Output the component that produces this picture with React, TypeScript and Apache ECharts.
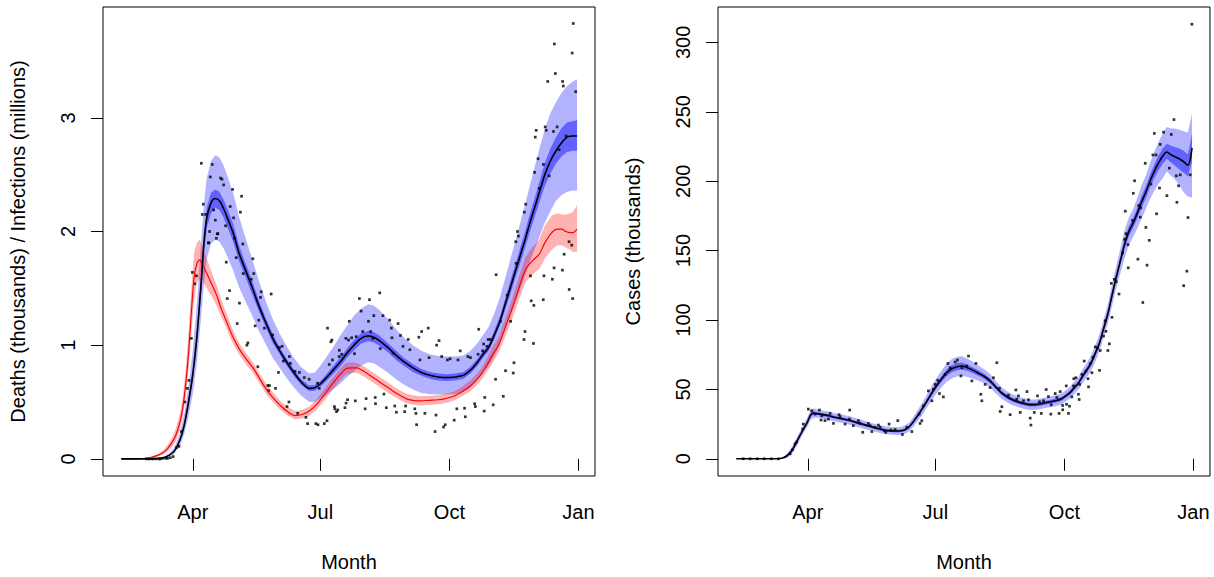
import React, { useEffect, useRef } from "react";
import * as echarts from "echarts";

// ---- axis ticks ----
const monthTicks = [91, 182, 274, 366];
const monthLabels = ["Apr", "Jul", "Oct", "Jan"];
const deathTicks = [0, 1, 2, 3];
const caseTicks = [0, 50, 100, 150, 200, 250, 300];

// ---- left panel: deaths (thousands) fit, blue ----
const deathDays = [40, 50, 60, 66, 70, 74, 78, 82, 85, 88, 91, 94, 97, 99, 101, 104, 107, 110, 113, 116, 120, 124, 128, 133, 138, 143, 148, 153, 158, 163, 168, 174, 178, 182, 186, 191, 196, 201, 206, 211, 216, 220, 224, 230, 236, 242, 248, 254, 260, 266, 272, 278, 284, 289, 294, 298, 302, 306, 310, 314, 318, 322, 325, 328, 331, 334, 338, 342, 346, 350, 354, 358, 362, 365];
const deathMean = [0, 0, 0, 0.003, 0.01, 0.03, 0.07, 0.17, 0.3, 0.5, 0.74, 1.08, 1.55, 1.9, 2.12, 2.25, 2.29, 2.27, 2.2, 2.11, 1.98, 1.81, 1.68, 1.52, 1.35, 1.2, 1.06, 0.95, 0.85, 0.76, 0.68, 0.62, 0.625, 0.66, 0.71, 0.78, 0.85, 0.93, 1.0, 1.06, 1.08, 1.07, 1.04, 0.98, 0.91, 0.85, 0.8, 0.76, 0.735, 0.72, 0.715, 0.72, 0.735, 0.78, 0.85, 0.92, 0.98, 1.09, 1.21, 1.37, 1.53, 1.69, 1.81, 1.93, 2.06, 2.18, 2.34, 2.5, 2.62, 2.71, 2.78, 2.83, 2.84, 2.84];
const deathLo95 = [0, 0, 0, 0, 0.005, 0.018, 0.05, 0.12, 0.22, 0.38, 0.57, 0.85, 1.25, 1.55, 1.76, 1.89, 1.93, 1.91, 1.85, 1.77, 1.65, 1.51, 1.4, 1.27, 1.13, 1.01, 0.89, 0.8, 0.71, 0.63, 0.56, 0.5, 0.5, 0.53, 0.56, 0.61, 0.66, 0.72, 0.77, 0.82, 0.85, 0.84, 0.81, 0.76, 0.7, 0.65, 0.61, 0.58, 0.57, 0.565, 0.565, 0.57, 0.59, 0.63, 0.7, 0.76, 0.82, 0.9, 1.01, 1.15, 1.29, 1.41, 1.51, 1.61, 1.72, 1.82, 1.95, 2.08, 2.18, 2.27, 2.32, 2.35, 2.36, 2.36];
const deathHi95 = [0, 0, 0, 0.006, 0.017, 0.045, 0.1, 0.23, 0.4, 0.64, 0.95, 1.38, 1.9, 2.25, 2.47, 2.62, 2.67, 2.65, 2.58, 2.48, 2.33, 2.13, 1.97, 1.77, 1.57, 1.39, 1.23, 1.1, 0.99, 0.89, 0.81, 0.75, 0.76, 0.82, 0.89, 0.98, 1.08, 1.17, 1.26, 1.32, 1.36, 1.35, 1.31, 1.23, 1.14, 1.06, 1.0, 0.95, 0.92, 0.905, 0.9, 0.9, 0.91, 0.95, 1.02, 1.09, 1.16, 1.28, 1.42, 1.6, 1.78, 1.96, 2.1, 2.24, 2.39, 2.53, 2.72, 2.9, 3.04, 3.14, 3.22, 3.28, 3.32, 3.34];
const deathLo50 = [0, 0, 0, 0.002, 0.008, 0.026, 0.063, 0.155, 0.28, 0.46, 0.69, 1.01, 1.46, 1.8, 2.03, 2.16, 2.21, 2.19, 2.12, 2.03, 1.9, 1.74, 1.62, 1.46, 1.3, 1.16, 1.02, 0.92, 0.82, 0.73, 0.655, 0.595, 0.6, 0.635, 0.68, 0.745, 0.81, 0.89, 0.955, 1.015, 1.035, 1.025, 0.995, 0.94, 0.87, 0.815, 0.765, 0.73, 0.705, 0.69, 0.685, 0.69, 0.705, 0.75, 0.82, 0.89, 0.95, 1.05, 1.17, 1.32, 1.47, 1.63, 1.74, 1.86, 1.98, 2.1, 2.25, 2.4, 2.51, 2.6, 2.66, 2.7, 2.71, 2.71];
const deathHi50 = [0, 0, 0, 0.004, 0.012, 0.034, 0.077, 0.185, 0.32, 0.54, 0.8, 1.16, 1.64, 2.0, 2.21, 2.34, 2.37, 2.35, 2.28, 2.19, 2.06, 1.88, 1.74, 1.58, 1.4, 1.24, 1.1, 0.98, 0.88, 0.79, 0.705, 0.645, 0.65, 0.685, 0.74, 0.815, 0.89, 0.97, 1.045, 1.105, 1.125, 1.115, 1.085, 1.02, 0.95, 0.885, 0.835, 0.79, 0.765, 0.75, 0.745, 0.75, 0.765, 0.81, 0.88, 0.95, 1.01, 1.13, 1.25, 1.42, 1.59, 1.75, 1.88, 2.0, 2.14, 2.26, 2.43, 2.6, 2.73, 2.83, 2.91, 2.96, 2.97, 2.98];

// ---- left panel: infections (millions), red ----
const infDays = [40, 50, 56, 61, 66, 70, 73, 76, 79, 82, 84, 86, 88, 90, 92, 94, 96, 98, 101, 104, 108, 111, 115, 119, 124, 129, 134, 138, 143, 148, 153, 158, 164, 169, 174, 179, 184, 190, 196, 200, 204, 208, 213, 219, 225, 231, 237, 243, 248, 253, 260, 266, 271, 277, 283, 289, 293, 297, 301, 305, 309, 314, 319, 323, 328, 333, 338, 342, 347, 351, 354, 357, 360, 362, 365];
const infMean = [0, 0, 0.003, 0.012, 0.03, 0.055, 0.09, 0.14, 0.21, 0.33, 0.46, 0.66, 0.93, 1.29, 1.6, 1.72, 1.75, 1.71, 1.63, 1.55, 1.44, 1.33, 1.21, 1.09, 0.97, 0.88, 0.8, 0.72, 0.62, 0.54, 0.475, 0.42, 0.38, 0.39, 0.42, 0.475, 0.55, 0.65, 0.74, 0.79, 0.8, 0.8, 0.77, 0.72, 0.67, 0.62, 0.57, 0.53, 0.515, 0.51, 0.515, 0.52, 0.53, 0.55, 0.59, 0.64, 0.69, 0.75, 0.83, 0.92, 1.0, 1.16, 1.33, 1.48, 1.66, 1.74, 1.8, 1.9, 1.99, 2.02, 2.02, 2.0, 1.99, 1.99, 2.02];
const infLo = [0, 0, 0.001, 0.007, 0.02, 0.04, 0.065, 0.1, 0.16, 0.26, 0.37, 0.54, 0.78, 1.1, 1.4, 1.55, 1.58, 1.56, 1.5, 1.44, 1.35, 1.26, 1.15, 1.03, 0.92, 0.83, 0.755, 0.675, 0.575, 0.5, 0.435, 0.385, 0.345, 0.355, 0.38, 0.43, 0.5, 0.6, 0.69, 0.74, 0.755, 0.755, 0.725, 0.675, 0.625, 0.575, 0.53, 0.49, 0.475, 0.47, 0.475, 0.48, 0.49, 0.51, 0.55, 0.595, 0.64, 0.7, 0.77, 0.85, 0.93, 1.08, 1.24, 1.38, 1.55, 1.62, 1.67, 1.76, 1.84, 1.88, 1.88, 1.86, 1.84, 1.82, 1.82];
const infHi = [0, 0, 0.005, 0.018, 0.042, 0.075, 0.12, 0.18, 0.27, 0.41, 0.56, 0.8, 1.1, 1.5, 1.82, 1.9, 1.93, 1.87, 1.76, 1.66, 1.53, 1.41, 1.28, 1.15, 1.02, 0.93, 0.845, 0.765, 0.665, 0.585, 0.515, 0.46, 0.42, 0.43, 0.46, 0.52, 0.6, 0.7, 0.79, 0.84, 0.85, 0.845, 0.815, 0.765, 0.715, 0.665, 0.615, 0.575, 0.56, 0.55, 0.555, 0.56, 0.57, 0.59, 0.635, 0.69, 0.74, 0.8, 0.89, 0.99, 1.07, 1.24, 1.42, 1.58, 1.77, 1.86, 1.93, 2.05, 2.14, 2.16, 2.15, 2.15, 2.16, 2.17, 2.23];

// ---- left panel: observed daily deaths (thousands) ----
const deathPoints: [number, number][] = [
  [58, 0], [60, 0], [62, 0], [63, 0], [65, 0], [67, 0], [68, 0], [70, 0.005], [72, 0.005], [73, 0.005], [75, 0.01],
  [77, 0.02], [79.4, 0.1], [81.2, 0.11], [82.9, 0.24], [85.3, 0.5], [87.2, 0.62], [88.3, 0.69], [90, 1.06], [90.7, 1.64], [92.4, 1.54], [93.6, 1.61],
  [97.1, 2.6], [97.8, 2.15], [98.5, 2.24], [100.2, 2.15], [102.1, 1.9], [102.5, 1.9], [103, 2.0], [103.5, 2.48], [104.9, 2.59], [105.9, 2.19],
  [107.1, 2.1], [107.8, 1.94], [108.5, 1.98], [108.9, 1.98], [110.8, 2.47], [111.8, 2.46], [113, 2.41], [114.4, 2.05], [114.9, 1.73], [115.6, 1.41],
  [117.2, 1.48], [117.7, 2.22], [119.4, 2.37], [120.1, 2.12], [120.8, 1.94], [122, 1.77], [122.7, 1.19], [124.3, 1.37], [125, 2.17], [125.8, 2.31],
  [126.7, 1.89], [127, 1.63], [129.6, 1.0], [130.3, 1.02], [132.7, 1.58], [133.8, 1.76], [134.5, 1.63], [135.5, 1.17], [137.4, 0.81], [138.1, 1.22],
  [139.3, 1.42], [139.8, 1.47], [142.1, 1.15], [144.5, 0.645], [145, 0.6], [145.7, 0.645], [146.9, 1.45], [148, 1.09], [150, 0.62], [152.1, 0.76],
  [152.8, 0.98], [154.7, 0.99], [155.6, 0.86], [158.2, 0.46], [159.9, 0.9], [159.6, 0.5], [160.6, 0.84], [163.9, 0.77], [165.8, 0.4], [167, 0.76],
  [170.5, 0.715], [171.7, 0.365], [172.9, 0.31], [174, 0.7], [178.8, 0.31], [180, 0.665], [180.3, 0.3], [181.2, 0.62], [184.8, 0.31], [186.7, 0.335],
  [187.1, 1.15], [188.3, 0.83], [189.5, 1.03], [190.2, 1.045], [190.6, 0.87], [192, 0.46], [192.3, 0.44], [193.5, 0.415], [194.4, 0.43], [195.4, 0.9],
  [195.5, 0.955], [197.2, 0.92], [199.5, 0.45], [200.2, 1.06], [200.3, 0.49], [201.4, 0.52], [202.1, 1.045], [202.6, 1.21], [204.3, 1.065], [206.3, 0.925],
  [206.9, 0.51], [207.5, 1.075], [209.8, 1.41], [211, 1.3], [212.2, 1.12], [213.9, 0.44], [214.6, 0.53], [216.3, 1.21], [217, 1.4], [217.8, 1.12],
  [219.4, 1.06], [220.1, 1.26], [221.1, 0.54], [221.3, 0.485], [224.3, 1.46], [224.7, 0.97], [226.6, 1.26], [227.3, 0.57], [229, 0.45], [231.4, 1.22],
  [232.6, 1.15], [233, 1.065], [233.8, 0.93], [235, 0.465], [236.2, 0.41], [237.4, 1.19], [239.1, 1.085], [240.9, 0.99], [242.1, 0.415], [242.8, 0.465],
  [244.6, 1.05], [245.8, 0.96], [249.3, 0.44], [250.1, 0.4], [250.6, 0.3], [252.2, 1.07], [253, 0.87], [254.2, 1.12], [256.5, 0.4], [258.9, 1.15],
  [259.5, 0.89], [263.8, 0.24], [264.4, 0.385], [264.9, 1.0], [266.6, 1.04], [268.5, 0.9], [269.8, 0.28], [271, 0.3], [272.6, 0.87], [274.5, 0.88],
  [277.4, 0.34], [279.3, 0.44], [280.1, 0.87], [281.7, 0.95], [284.8, 0.445], [285.3, 0.37], [287.2, 0.9], [289, 0.89], [292, 0.485], [292.5, 0.46],
  [294.4, 0.92], [294.9, 1.14], [297.7, 0.95], [298.4, 1.01], [298.8, 0.42], [299.2, 0.54], [300.8, 0.99], [301.6, 1.05], [303.2, 1.05], [305.2, 0.475],
  [306.9, 0.7], [307.3, 1.62], [310.4, 1.21], [312.4, 0.55], [314, 0.775], [315.2, 1.44], [317.6, 1.21], [319.5, 0.755], [320, 0.845], [321.3, 1.91],
  [321.5, 1.72], [322.5, 2.0], [323.2, 1.96], [327.2, 1.05], [327.4, 2.17], [327.9, 1.12], [328.4, 2.24], [331.8, 1.61], [332.3, 1.39], [333.9, 1.015],
  [334.2, 1.35], [334.7, 2.52], [335.2, 2.83], [335.9, 2.89], [337.2, 2.64], [338.1, 2.38], [340.9, 1.4], [341, 2.59], [341.4, 1.61], [342.3, 2.92],
  [343, 2.89], [344.1, 3.32], [345.1, 2.49], [347.4, 1.58], [348.2, 2.88], [348.6, 1.68], [348.8, 3.65], [349.5, 3.39], [350.8, 2.92], [352.2, 2.72],
  [354.6, 1.66], [354.7, 3.32], [355.2, 3.28], [355.8, 1.8], [357.2, 2.84], [359.3, 1.91], [359.4, 1.49], [361.2, 1.88], [361.5, 3.57], [361.9, 1.41],
  [362.3, 3.83], [364, 3.23]
];

// ---- right panel: cases (thousands) ----
const caseDays = [40, 55, 70, 73, 76, 79, 82, 85, 88, 91, 93, 95, 98, 101, 106, 111, 116, 121, 126, 131, 136, 141, 146, 151, 156, 160, 163, 166, 170, 174, 178, 182, 186, 190, 194, 198, 201, 205, 209, 213, 217, 221, 225, 229, 233, 237, 241, 245, 249, 253, 257, 261, 265, 269, 272, 275, 278, 281, 284, 287, 290, 293, 296, 299, 302, 305, 308, 311, 314, 317, 320, 323, 326, 329, 332, 335, 338, 341, 344, 347, 350, 353, 356, 359, 362, 365];
const caseMean = [0, 0, 0, 0.5, 2, 5, 10, 16, 21.5, 27, 31.5, 33, 32.5, 32, 31, 29.7, 28.7, 27.6, 26, 24.6, 23.2, 21.8, 20.6, 20.1, 20, 20.8, 22.7, 26.3, 32, 38.3, 45, 51.5, 57, 62, 65, 66.5, 66.8, 65.5, 63.7, 61.5, 59.3, 56.1, 51.8, 47.6, 44.7, 42.5, 41, 39.8, 39, 39, 39.6, 40.5, 41.3, 42.2, 43.2, 45.3, 47.7, 51.2, 54.5, 59.5, 64, 69, 76, 83.5, 94, 104.5, 118, 131, 143, 155, 164, 170, 177, 185, 192, 200, 207, 213, 218, 221, 219, 217.5, 216, 214, 211.5, 224];
const caseLo95 = [0, 0, 0, 0, 0.5, 2.5, 7, 13, 18.5, 23.5, 28, 29.5, 29.5, 29, 28, 26.7, 25.7, 24.6, 23, 21.6, 20.4, 19, 17.8, 17.3, 17.2, 17.8, 19.5, 22.8, 28, 33.8, 40, 46, 51, 55.5, 58, 59.5, 59.8, 59, 57.7, 56, 54.3, 51.1, 47.3, 43.4, 40.7, 38.5, 37.2, 36, 35.2, 35.2, 35.8, 36.7, 37.3, 38.2, 39.2, 41.3, 43.5, 46.7, 50, 54.5, 59, 63.5, 70, 77.5, 87.5, 97.5, 110, 123, 134, 145, 154, 160, 166, 173, 180, 187, 193, 198, 202, 207, 204, 201, 197, 192, 189, 188];
const caseHi95 = [0, 0, 0, 1, 3.5, 7.5, 13, 19, 24.5, 30.5, 35, 36.5, 35.5, 35, 34, 32.7, 31.7, 30.6, 29, 27.6, 26, 24.6, 23.4, 22.9, 22.8, 23.8, 25.9, 29.8, 36, 42.8, 50, 57, 63, 68.5, 72, 73.5, 73.8, 72, 69.7, 67, 64.3, 61.1, 56.3, 51.8, 48.7, 46.5, 44.8, 43.6, 42.8, 42.8, 43.4, 44.3, 45.3, 46.2, 47.2, 49.3, 51.9, 55.7, 59, 64.5, 69, 74.5, 82, 89.5, 100.5, 111.5, 126, 139, 152, 165, 174, 180, 188, 197, 204, 213, 221, 228, 234, 239, 238, 238, 237, 236, 235, 249];
const caseLo50 = [0, 0, 0, 0.3, 1.5, 4.1, 9, 15, 20.5, 25.8, 30.3, 31.8, 31.5, 31, 30, 28.7, 27.7, 26.6, 25, 23.6, 22.2, 20.8, 19.6, 19.1, 19, 19.8, 21.6, 25.1, 30.6, 36.7, 43.3, 49.6, 54.9, 59.7, 62.6, 64, 64.3, 63.2, 61.6, 59.6, 57.5, 54.3, 50.2, 46.1, 43.3, 41.1, 39.7, 38.5, 37.7, 37.7, 38.3, 39.2, 39.9, 40.8, 41.8, 43.9, 46.2, 49.6, 52.9, 57.8, 62.3, 67.1, 73.9, 81.4, 91.7, 102, 115.2, 128.2, 139.9, 151.5, 160.5, 166.5, 173.2, 180.8, 187.8, 195.5, 202.1, 207.8, 212.4, 216, 213.5, 211, 208.5, 206, 203.5, 214];
const caseHi50 = [0, 0, 0, 0.7, 2.5, 5.9, 11, 17, 22.5, 28.2, 32.7, 34.2, 33.5, 33, 32, 30.7, 29.7, 28.6, 27, 25.6, 24.2, 22.8, 21.6, 21.1, 21, 21.8, 23.8, 27.5, 33.4, 39.9, 46.8, 53.4, 59.1, 64.3, 67.5, 69, 69.3, 67.8, 65.8, 63.4, 61.1, 57.9, 53.4, 49.1, 46.1, 43.9, 42.3, 41.1, 40.3, 40.3, 40.9, 41.8, 42.7, 43.6, 44.6, 46.7, 49.2, 52.8, 56.1, 61.3, 65.7, 70.9, 78.1, 85.6, 96.3, 107, 120.8, 133.8, 146.1, 158.5, 167.5, 173.5, 180.8, 189.2, 196.2, 204.5, 211.9, 218.3, 223.6, 227, 225.5, 224.5, 223.5, 222, 219.5, 234];

const casePoints: [number, number][] = [
  [45, 0], [50, 0], [55, 0], [60, 0], [65, 0], [70, 0],
  [78.4, 3.6], [80, 6.4], [81.9, 10.7], [83.1, 12], [87.4, 21.5], [87.8, 25], [91.4, 35.8], [93.8, 34.6], [96.2, 32.2], [99.3, 35.1],
  [100.5, 27.9], [101, 31], [103.3, 27.5], [105.7, 28.6], [106.9, 32.7], [109.3, 25.5], [113.3, 31.8], [114, 30.3], [117.6, 25], [120.7, 28.6],
  [120.9, 35.1], [123.5, 23.9], [127.1, 27.5], [128.3, 25.5], [130.2, 19.1], [134.2, 25.5], [135.4, 23.9], [136.7, 19.6], [139, 22.7], [141.4, 24.3],
  [142.6, 22.7], [145.6, 20.3], [146.6, 19.1], [149, 25], [150.2, 20.7], [153.3, 21], [155.2, 27.5], [158.5, 17.5], [161.6, 22.7], [165.2, 19.6],
  [170.4, 32.2], [171.1, 25.5], [172.3, 27.5], [173.5, 38.2], [177, 48.9], [179.5, 41.8], [180.6, 50.1], [181.8, 53.6], [183.7, 56.5], [184.9, 47],
  [187.7, 44.6], [188.9, 60.8], [190.9, 68.7], [192.5, 65.6], [196.1, 69.7], [197.7, 71.1], [200.2, 59.7], [200.9, 65.6], [204.4, 66.8], [205.6, 74],
  [208, 56.1], [210.9, 68.7], [214.4, 46.5], [215.1, 41.8], [217.5, 53.6], [221, 51.3], [223.4, 58.4], [225.8, 69.2], [227.7, 50.8], [228.2, 34.1],
  [229.4, 37.5], [234.1, 45.8], [235.3, 31.8], [239.4, 49.6], [240, 42.9], [241.2, 45.3], [242.5, 33.4], [244.8, 41.8], [247.3, 48.4], [248.4, 42.5],
  [249.6, 29.3], [250.1, 24.3], [252.5, 33.4], [254.8, 45.3], [256.2, 41.1], [257.5, 32.7], [259.1, 41.8], [261, 49.9], [262.6, 44.8], [264.3, 32.2],
  [264.6, 38.9], [267.4, 47], [268.6, 44.1], [270.2, 32.7], [271, 48.4], [272.7, 38.4], [272.8, 35.3], [275.3, 52.5], [275.5, 39.3], [276.9, 32.7],
  [277.6, 37.9], [279.3, 44.6], [280.5, 52.5], [280.7, 57.7], [282.2, 58.4], [284, 46.5], [284.5, 42.7], [284.8, 53.6], [286.5, 60.8], [288.1, 70.4],
  [289.3, 63.2], [290.8, 57.7], [291.2, 51.8], [292.4, 68.5], [293.6, 62], [294.3, 73.2], [296, 80.6], [297.6, 79.9], [299, 63.7], [299.5, 78],
  [301.9, 88.3], [303.1, 99.4], [303.6, 91.8], [305, 78], [306, 82.8], [307.4, 126.4], [307.9, 101.9], [309.5, 129.3], [310.9, 127.6], [312.9, 118.7],
  [315.4, 148.4], [316.9, 158.1], [317.4, 178.4], [317.9, 162.2], [319.3, 154.3], [319.5, 137.6], [322.6, 171.7], [323.1, 191.3], [324, 200.3], [326.4, 143.8],
  [327, 182.4], [328.1, 174.1], [328.4, 180.8], [329.9, 112.6], [331.6, 212.9], [332.1, 166.7], [332.9, 139.5], [334.5, 157.4], [335.7, 197.9], [337.1, 218.9],
  [338.1, 234.4], [339.3, 218.9], [339.7, 176.5], [341.8, 195.1], [342.3, 226.5], [344.7, 235.3], [347.1, 189.6], [348.8, 209.4], [350.2, 233.7], [352.1, 244.4],
  [353.8, 203.9], [354.2, 184.8], [355.4, 196.7], [356.6, 204.6], [359, 124.7], [361.3, 135.2], [362.1, 173.8], [363.7, 204.6], [364.9, 313.1]
];

const FONT = "'Liberation Sans', Arial, Helvetica, sans-serif";
const LIGHT_BLUE = "rgba(0,0,255,0.3)";
const DARK_BLUE = "rgba(0,0,255,0.45)";
const LIGHT_RED = "rgba(255,0,0,0.3)";

function band(xs: number[], lo: number[], hi: number[], fill: string, idx: number) {
  return {
    type: "custom",
    xAxisIndex: idx,
    yAxisIndex: idx,
    silent: true,
    data: xs.map((x, i) => [x, lo[i], hi[i]]),
    encode: { x: 0, y: [1, 2] },
    renderItem: (params: any, api: any) => {
      if (params.dataIndex !== 0) return null;
      const pts: number[][] = [];
      for (let i = 0; i < xs.length; i++) pts.push(api.coord([xs[i], hi[i]]));
      for (let i = xs.length - 1; i >= 0; i--) pts.push(api.coord([xs[i], lo[i]]));
      return { type: "polygon", shape: { points: pts, smooth: 0 }, style: { fill } };
    },
  };
}

function line(xs: number[], ys: number[], color: string, width: number, idx: number) {
  return {
    type: "line",
    xAxisIndex: idx,
    yAxisIndex: idx,
    data: xs.map((x, i) => [x, ys[i]]),
    showSymbol: false,
    smooth: 0.3,
    silent: true,
    lineStyle: { color, width },
  };
}

function dots(pts: [number, number][], idx: number) {
  return {
    type: "scatter",
    xAxisIndex: idx,
    yAxisIndex: idx,
    data: pts,
    symbol: "rect",
    symbolSize: 2.7,
    silent: true,
    itemStyle: { color: "#000" },
  };
}

function xAxisFor(idx: number) {
  return {
    type: "value",
    gridIndex: idx,
    min: 27,
    max: 377.8,
    name: "Month",
    nameLocation: "middle",
    nameGap: 76,
    nameTextStyle: { fontSize: 20, color: "#000", fontFamily: FONT },
    axisLine: { show: false },
    splitLine: { show: false },
    axisTick: { show: true, length: 12, customValues: monthTicks, lineStyle: { color: "#000", width: 1 } },
    axisLabel: {
      customValues: monthTicks,
      formatter: (v: number) => monthLabels[monthTicks.indexOf(v)] ?? "",
      margin: 26,
      fontSize: 20,
      color: "#000",
      fontFamily: FONT,
    },
  };
}

function yAxisFor(idx: number, min: number, max: number, ticks: number[], name: string) {
  return {
    type: "value",
    gridIndex: idx,
    min,
    max,
    name,
    nameLocation: "middle",
    nameRotate: 90,
    nameGap: 75,
    nameTextStyle: { fontSize: 20, color: "#000", fontFamily: FONT },
    axisLine: { show: false },
    splitLine: { show: false },
    axisTick: { show: true, length: 12, customValues: ticks, lineStyle: { color: "#000", width: 1 } },
    axisLabel: {
      customValues: ticks,
      rotate: 90,
      margin: 25,
      fontSize: 20,
      color: "#000",
      fontFamily: FONT,
    },
  };
}

export default function App() {
  const ref = useRef<HTMLDivElement>(null);
  useEffect(() => {
    if (!ref.current) return;
    const chart = echarts.init(ref.current, null, { renderer: "svg" });
    chart.setOption({
      animation: false,
      backgroundColor: "#fff",
      textStyle: { fontFamily: FONT },
      grid: [
        { left: 103, top: 7, width: 492, height: 472, show: true, borderColor: "#000", borderWidth: 1, backgroundColor: "transparent" },
        { left: 718, top: 7, width: 492, height: 472, show: true, borderColor: "#000", borderWidth: 1, backgroundColor: "transparent" },
      ],
      xAxis: [xAxisFor(0), xAxisFor(1)],
      yAxis: [
        yAxisFor(0, -0.151, 3.975, deathTicks, "Deaths (thousands) / Infections (millions)"),
        yAxisFor(1, -12.4, 325.5, caseTicks, "Cases (thousands)"),
      ],
      series: [
        band(deathDays, deathLo95, deathHi95, LIGHT_BLUE, 0),
        band(deathDays, deathLo50, deathHi50, DARK_BLUE, 0),
        band(infDays, infLo, infHi, LIGHT_RED, 0),
        line(infDays, infMean, "#ff0000", 1.2, 0),
        line(deathDays, deathMean, "#000", 1.6, 0),
        dots(deathPoints, 0),
        band(caseDays, caseLo95, caseHi95, LIGHT_BLUE, 1),
        band(caseDays, caseLo50, caseHi50, DARK_BLUE, 1),
        line(caseDays, caseMean, "#000", 1.6, 1),
        dots(casePoints, 1),
      ],
    });
    return () => chart.dispose();
  }, []);
  return (
    <div
      ref={ref}
      style={{ position: "absolute", left: 0, top: 0, width: 1214, height: 577, background: "#fff" }}
    />
  );
}
